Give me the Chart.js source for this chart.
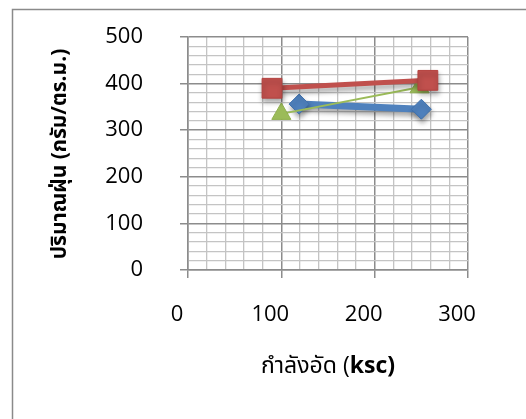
<!DOCTYPE html>
<html>
<head>
<meta charset="utf-8">
<script src="https://cdn.jsdelivr.net/npm/chart.js@4.4.1/dist/chart.umd.min.js"></script>
<style>
  html, body { margin: 0; padding: 0; background: #fff; }
  #wrap { width: 526px; height: 419px; }
</style>
</head>
<body>
<div id="wrap"><canvas id="c" width="526" height="419"></canvas></div>
<script>
// Compressive strength (ksc) vs. dust amount (g/m2) for three mixes
const blueX = [119, 250];
const blueY = [356, 345];
const redX = [90, 257];
const redY = [390, 407];
const greenX = [100, 248];
const greenY = [335, 392];

const xTicks = [0, 100, 200, 300];
const yTicks = [0, 100, 200, 300, 400, 500];

const yTitle = 'ปริมาณฝุ่น (กรัม/ตร.ม.)';
const xTitlePlain = 'กำลังอัด (';
const xTitleBold = 'ksc)';

const FONT = '"Open Sans", "Noto Sans", "Noto Sans Thai", "DejaVu Sans", sans-serif';

const toPoints = (xs, ys) => xs.map((x, i) => ({ x: x, y: ys[i] }));

const major = v => v % 100 === 0;

// outer frame and axis titles
const decor = {
  id: 'decor',
  beforeDraw(chart) {
    const ctx = chart.ctx;
    ctx.save();
    ctx.fillStyle = '#fff';
    ctx.fillRect(0, 0, chart.width, chart.height);
    ctx.strokeStyle = '#8a8a8a';
    ctx.lineWidth = 1.5;
    ctx.beginPath();
    ctx.moveTo(12.5, chart.height + 5);
    ctx.lineTo(12.5, 9.5);
    ctx.lineTo(chart.width + 5, 9.5);
    ctx.stroke();
    ctx.restore();
  },
  afterDraw(chart) {
    const ctx = chart.ctx;
    ctx.save();
    ctx.fillStyle = '#000';
    // y title, rotated
    ctx.translate(60, 154);
    ctx.rotate(-Math.PI / 2);
    ctx.font = 'bold 21px ' + FONT;
    ctx.textAlign = 'center';
    ctx.textBaseline = 'middle';
    ctx.fillText(yTitle, 0, 0);
    ctx.restore();

    // x title, plain + bold parts
    ctx.save();
    ctx.fillStyle = '#000';
    ctx.textBaseline = 'middle';
    const plainFont = '23px ' + FONT;
    const boldFont = 'bold 23px ' + FONT;
    ctx.font = plainFont;
    const w1 = ctx.measureText(xTitlePlain).width;
    ctx.font = boldFont;
    const w2 = ctx.measureText(xTitleBold).width;
    const start = 328 - (w1 + w2) / 2;
    ctx.font = plainFont;
    ctx.textAlign = 'left';
    ctx.fillText(xTitlePlain, start, 366);
    ctx.font = boldFont;
    ctx.fillText(xTitleBold, start + w1, 366);
    ctx.restore();
  }
};

// soft drop shadow under the thick series
const shadow = {
  id: 'shadow',
  beforeDatasetDraw(chart, args) {
    const ds = chart.data.datasets[args.index];
    chart.ctx.save();
    if (ds.shadow) {
      chart.ctx.shadowColor = 'rgba(0,0,0,0.35)';
      chart.ctx.shadowBlur = 5;
      chart.ctx.shadowOffsetY = 4;
      chart.ctx.shadowOffsetX = 1;
    }
  },
  afterDatasetDraw(chart) {
    chart.ctx.restore();
  }
};

const gridOpts = {
  color: c => major(c.tick.value) ? '#8c8c8c' : '#c4c4c4',
  lineWidth: c => major(c.tick.value) ? 1.5 : 1.3,
  tickColor: c => major(c.tick.value) ? '#8c8c8c' : 'rgba(0,0,0,0)',
  tickLength: 8,
  tickWidth: 1.5
};

new Chart(document.getElementById('c'), {
  type: 'scatter',
  data: {
    datasets: [
      {
        label: 'red',
        data: toPoints(redX, redY),
        showLine: true,
        borderColor: '#C0504D',
        backgroundColor: '#C0504D',
        borderWidth: 5,
        pointStyle: 'rect',
        pointRadius: 14,
        pointBorderColor: '#B4423F',
        pointBorderWidth: 1,
        order: 1,
        shadow: true
      },
      {
        label: 'green',
        data: toPoints(greenX, greenY),
        showLine: true,
        borderColor: '#9BBB59',
        backgroundColor: '#9BBB59',
        borderWidth: 2,
        pointStyle: 'triangle',
        pointRadius: 11,
        pointBorderColor: '#8FAF4E',
        pointBorderWidth: 1,
        order: 2,
        shadow: false
      },
      {
        label: 'blue',
        data: toPoints(blueX, blueY),
        showLine: true,
        borderColor: '#4F81BD',
        backgroundColor: '#4F81BD',
        borderWidth: 7,
        pointStyle: 'rectRot',
        pointRadius: 10,
        pointBorderColor: '#3F71AD',
        pointBorderWidth: 1,
        order: 3,
        shadow: true
      }
    ]
  },
  options: {
    responsive: false,
    animation: false,
    layout: { padding: { top: 37, right: 58, left: 0, bottom: 0 } },
    plugins: {
      legend: { display: false },
      tooltip: { enabled: false }
    },
    scales: {
      x: {
        type: 'linear',
        min: 0,
        max: 300,
        afterFit: s => { s.height = 149; s.paddingLeft = 0; s.paddingRight = 0; },
        afterBuildTicks: s => { s.ticks = []; for (let v = 0; v <= 300; v += 20) s.ticks.push({ value: v }); },
        ticks: {
          autoSkip: false,
          maxRotation: 0,
          padding: 24,
          labelOffset: -11,
          color: '#000',
          font: { family: FONT, size: 22 },
          callback: v => xTicks.includes(v) ? String(v) : ''
        },
        grid: gridOpts,
        border: { display: true, color: '#8c8c8c', width: 1.5 }
      },
      y: {
        type: 'linear',
        min: 0,
        max: 500,
        afterFit: s => { s.width = 188; s.paddingTop = 0; s.paddingBottom = 0; },
        afterBuildTicks: s => { s.ticks = []; for (let v = 0; v <= 500; v += 20) s.ticks.push({ value: v }); },
        ticks: {
          autoSkip: false,
          padding: 37,
          color: '#000',
          font: { family: FONT, size: 22 },
          callback: v => yTicks.includes(v) ? String(v) : ''
        },
        grid: gridOpts,
        border: { display: true, color: '#8c8c8c', width: 1.5 }
      }
    }
  },
  plugins: [decor, shadow]
});
</script>
</body>
</html>
